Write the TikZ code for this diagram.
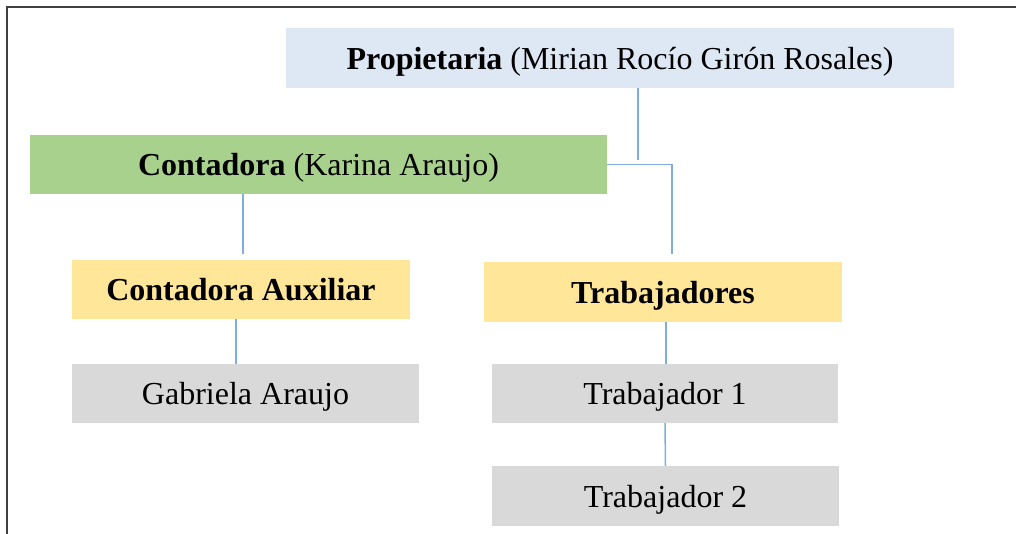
\documentclass[tikz,border=0pt]{standalone}
\usepackage{fontspec}
\setmainfont{Liberation Serif}
\usetikzlibrary{calc}
\definecolor{propblue}{HTML}{DEE8F4}
\definecolor{contgreen}{HTML}{A9D18E}
\definecolor{auxyellow}{HTML}{FFE699}
\definecolor{workgray}{HTML}{D9D9D9}
\definecolor{linkblue}{HTML}{7EAEDE}
\tikzstyle{box} = [inner sep=0pt, text depth=0pt, font=\fontsize{32}{38}\selectfont, text=black]
\tikzstyle{link} = [draw=linkblue, line width=1.5pt]

\begin{document}
\begin{tikzpicture}[x=1pt,y=-1pt]
\useasboundingbox (0,0) rectangle (1016,534);
\draw[line width=1.6pt, black!75] (7,534) -- (7,7) -- (1016,7);
 \node [box, fill=propblue, minimum width=668pt, minimum height=60pt] (PR) at (620,58) {\textbf{Propietaria} (Mirian Rocío Girón Rosales)};
 \node [box, fill=contgreen, minimum width=577pt, minimum height=59pt] (CO) at (318.5,164.5) {\textbf{Contadora} (Karina Araujo)};
 \node [box, fill=auxyellow, minimum width=338pt, minimum height=59pt] (CA) at (241,289.5) {\textbf{Contadora Auxiliar}};
 \node [box, fill=auxyellow, minimum width=358pt, minimum height=60pt] (TR) at (663,292) {\textbf{Trabajadores}};
 \node [box, fill=workgray, minimum width=347pt, minimum height=59pt] (GA) at (245.5,393.5) {Gabriela Araujo};
 \node [box, fill=workgray, minimum width=346pt, minimum height=59pt] (T1) at (665,393.5) {Trabajador 1};
 \node [box, fill=workgray, minimum width=347pt, minimum height=60pt] (T2) at (665.5,496) {Trabajador 2};
 % connectors
 \coordinate (j1) at (638,160);
 \coordinate (j2) at (672,164.5);
 \coordinate (j3) at (672,254);
 \path [link] (PR.south -| j1) -- (j1);
 \path [link] (CO.east) -- (j2) -- (j3);
 \path [link] ($(CO.south)+(-75.5,0)$) -- ($(CA.north)+(2,-6)$);
 \path [link] ($(CA.south)+(-5,0)$) -- ($(GA.north)+(-9.5,0)$);
 \path [link] ($(TR.south)+(3,0)$) -- ($(T1.north)+(1,0)$);
 \path [link] (T1.south) -- (T2.north);
\end{tikzpicture}
\end{document}
